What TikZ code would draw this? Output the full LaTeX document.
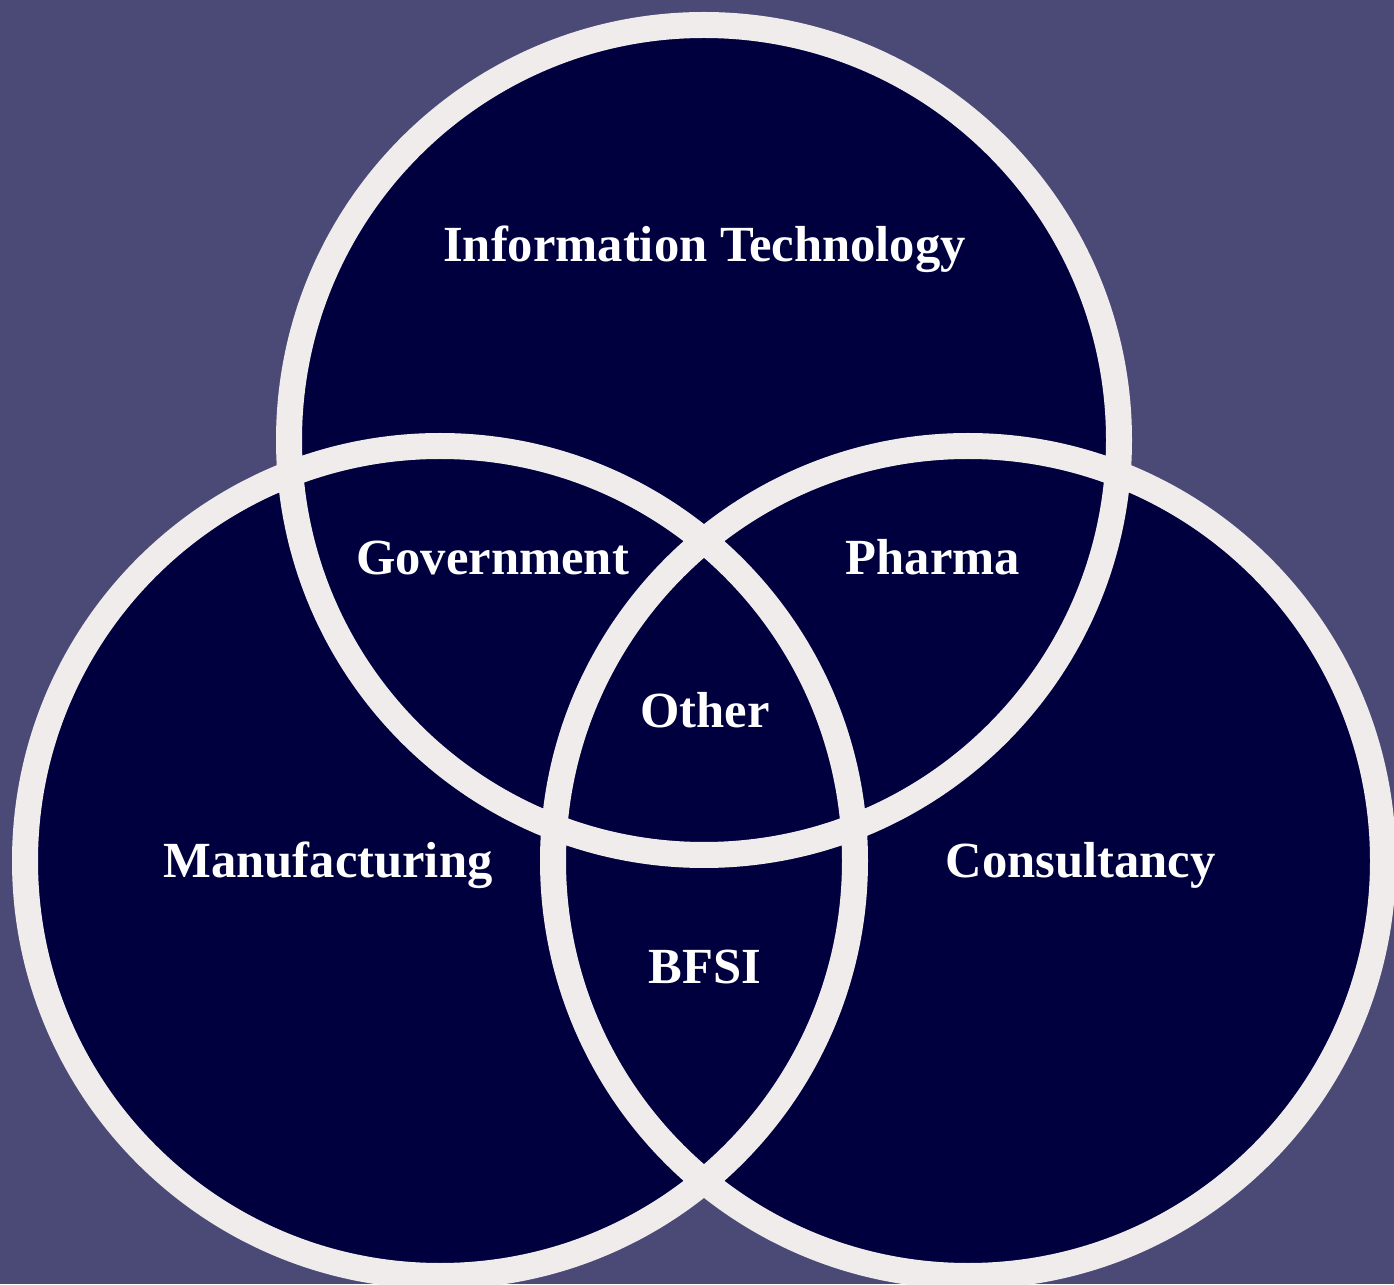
\documentclass[tikz,border=0pt]{standalone}
\usepackage{fontspec}
\setmainfont{Liberation Serif}

\definecolor{bgpurple}{HTML}{4B4A77}
\definecolor{navyfill}{HTML}{00003F}
\definecolor{ringgray}{HTML}{F0ECEB}

\begin{document}
\begin{tikzpicture}[ring/.style={draw=ringgray, line width=0.26cm},
  sector/.style={text=white, font=\fontsize{14.4}{17}\selectfont\bfseries, anchor=base, inner sep=0pt}]
\useasboundingbox (0,0) rectangle (13.94,12.84);
\clip (0,0) rectangle (13.94,12.84);
\fill[bgpurple] (0,0) rectangle (13.94,12.84);
\node[] (top) at (7.04, 8.44) {};
\node[] (left) at (4.40, 4.23) {};
\node[] (right) at (9.68, 4.23) {};
\fill[navyfill] (top.center) circle (4.15);
\fill[navyfill] (left.center) circle (4.15);
\fill[navyfill] (right.center) circle (4.15);
\draw[ring] (top.center) circle (4.15);
\draw[ring] (left.center) circle (4.15);
\draw[ring] (right.center) circle (4.15);
\node[sector] (it) at (7.045, 10.22) {Information Technology};
\node[sector] (gov) at (4.925, 7.09) {Government};
\node[sector] (pharma) at (9.33, 7.09) {Pharma};
\node[sector] (other) at (7.05, 5.56) {Other};
\node[sector] (manu) at (3.28, 4.06) {Manufacturing};
\node[sector] (cons) at (10.805, 4.06) {Consultancy};
\node[sector] (bfsi) at (7.05, 3.01) {BFSI};
\end{tikzpicture}
\end{document}
